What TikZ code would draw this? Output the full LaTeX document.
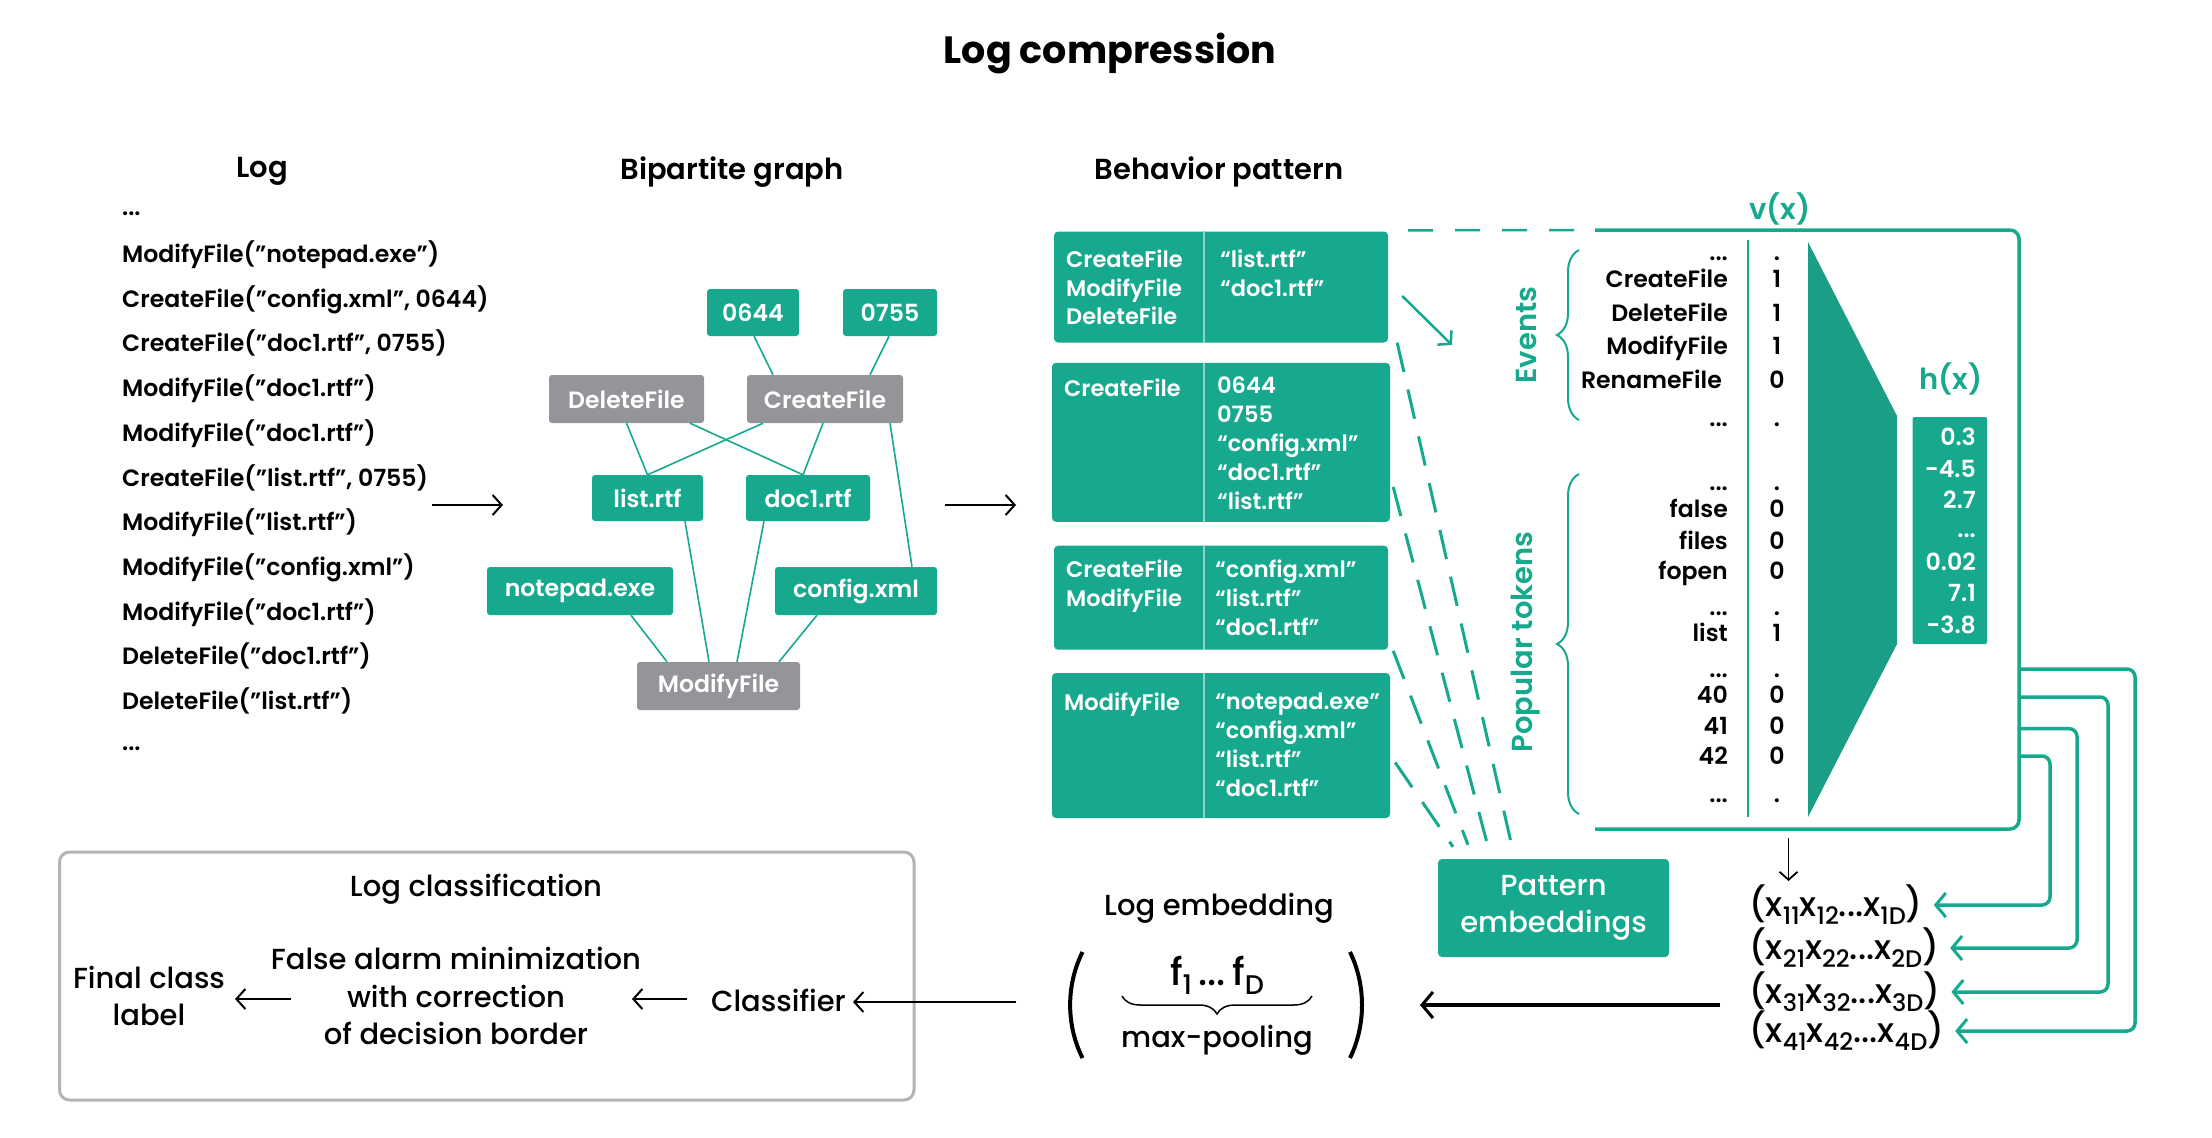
\documentclass[tikz,border=0pt]{standalone}
\usepackage{fontspec}
\setmainfont{Poppins}
\IfFontExistsTF{Poppins Medium}{\newfontfamily\pmedfam{Poppins Medium}}{\newfontfamily\pmedfam{Poppins}[FakeBold=2.0]}
\IfFontExistsTF{Poppins SemiBold}{\newfontfamily\psemifam{Poppins SemiBold}}{\newfontfamily\psemifam{Poppins}[FakeBold=3.0]}
\usetikzlibrary{arrows.meta,decorations.pathreplacing,calc}
\definecolor{kteal}{HTML}{17A98E}
\definecolor{ktrap}{HTML}{1B9E86}
\definecolor{kgray}{HTML}{939598}
\definecolor{kframe}{HTML}{B4B4B4}
\newcommand\fsA{\psemifam\fontsize{23.6}{28.8}\selectfont}
\newcommand\fsP{\psemifam\fontsize{22.5}{28.8}\selectfont}
\newcommand\fsB{\pmedfam\fontsize{29}{37.5}\selectfont}
\newcommand\fsV{\pmedfam\fontsize{34}{40}\selectfont}
\newcommand\fsF{\pmedfam\fontsize{38}{40}\selectfont}
\newcommand\fsH{\psemifam\fontsize{29}{34}\selectfont}
\newcommand\fsT{\bfseries\fontsize{38}{44}\selectfont}
\newcommand\tdots{...}
\newcommand\ksub[1]{\raisebox{-8pt}{\fontsize{24}{24}\selectfont #1}}
\newcommand\fsub[1]{\raisebox{-9pt}{\fontsize{27}{27}\selectfont #1}}
\begin{document}
\begin{tikzpicture}[x=1pt,y=-1pt,
  tb/.style={fill=kteal,text=white,rounded corners=3pt,inner sep=0pt,font=\fsA},
  gb/.style={tb,fill=kgray},
  pbox/.style={fill=kteal,rounded corners=4pt,inner sep=0pt},
  gedge/.style={kteal,line width=1.6pt},
  txt/.style={inner sep=0pt,font=\fsA},
  ptxt/.style={inner sep=0pt,font=\fsP,text=white,anchor=north west,align=left},
  blk/.style={line width=2pt,-{Straight Barb[length=9pt,width=20pt,line width=2pt]}},
  blkthick/.style={line width=3.5pt,-{Straight Barb[length=11pt,width=26pt,line width=3pt]}},
  tarr/.style={kteal,line width=3.5pt,rounded corners=8pt,-{Straight Barb[length=10pt,width=24pt,line width=3pt]}},
  tdash/.style={kteal,line width=3pt,dash pattern=on 30pt off 18pt},
  tbrace/.style={kteal,line width=2pt,decorate,decoration={brace,amplitude=22pt}}
]
\useasboundingbox (0,0) rectangle (2212,1138);
\fill[white] (0,0) rectangle (2212,1138);

% title and headers
\node[inner sep=0pt,font=\fsT] (title) at (1110,54) {Log compression};
\node[inner sep=0pt,font=\fsH] (hlog) at (262,171) {Log};
\node[inner sep=0pt,font=\fsH] (hbip) at (732,172) {Bipartite graph};
\node[inner sep=0pt,font=\fsH] (hbeh) at (1219,172) {Behavior pattern};

% log lines
\node[txt,anchor=base west] (ldots1) at (122,215) {\tdots};
\foreach \t [count=\i] in {{ModifyFile(”notepad.exe”)},{CreateFile(”config.xml”, 0644)},{CreateFile(”doc1.rtf”, 0755)},{ModifyFile(”doc1.rtf”)},{ModifyFile(”doc1.rtf”)},{CreateFile(”list.rtf”, 0755)},{ModifyFile(”list.rtf”)},{ModifyFile(”config.xml”)},{ModifyFile(”doc1.rtf”)},{DeleteFile(”doc1.rtf”)},{DeleteFile(”list.rtf”)}}
  \node[txt,anchor=base west] (log\i) at (122,{262.5+44.7*(\i-1)}) {\t};
\node[txt,anchor=base west] (ldots2) at (122,750) {\tdots};

\coordinate (a1s) at (432,505);
\coordinate (a1e) at (503,505);
\draw[blk] (a1s) -- (a1e);

% bipartite graph
\node[tb,minimum width=92pt,minimum height=47pt] (n0644) at (753,312.5) {0644};
\node[tb,minimum width=94pt,minimum height=47pt] (n0755) at (890,312.5) {0755};
\node[gb,minimum width=155pt,minimum height=48pt] (del) at (626.5,399) {DeleteFile};
\node[gb,minimum width=156pt,minimum height=48pt] (cre) at (825,399) {CreateFile};
\node[tb,minimum width=111pt,minimum height=46pt] (lst) at (647.5,498) {list.rtf};
\node[tb,minimum width=124pt,minimum height=46pt] (doc) at (808,498) {doc1.rtf};
\node[tb,minimum width=186pt,minimum height=48pt] (note) at (580,591) {notepad.exe};
\node[tb,minimum width=162pt,minimum height=48pt] (conf) at (856,591) {config.xml};
\node[gb,minimum width=163pt,minimum height=48pt] (mod) at (718.5,686) {ModifyFile};

\draw[gedge] ([xshift=1pt]n0644.south) -- ([xshift=-52pt]cre.north);
\draw[gedge] ([xshift=-1pt]n0755.south) -- ([xshift=45pt]cre.north);
\draw[gedge] (del.south) -- (lst.north);
\draw[gedge] ([xshift=63.5pt]del.south) -- ([xshift=-5pt]doc.north);
\draw[gedge] ([xshift=-62pt]cre.south) -- (lst.north);
\draw[gedge] ([xshift=-2pt]cre.south) -- ([xshift=-5pt]doc.north);
\draw[gedge] ([xshift=65pt]cre.south) -- ([xshift=56pt]conf.north);
\draw[gedge] ([xshift=37.5pt]lst.south) -- ([xshift=-9.5pt]mod.north);
\draw[gedge] ([xshift=-44pt]doc.south) -- ([xshift=18.5pt]mod.north);
\draw[gedge] ([xshift=51pt]note.south) -- ([xshift=-51.5pt]mod.north);
\draw[gedge] ([xshift=-39pt]conf.south) -- ([xshift=60.5pt]mod.north);

\coordinate (a2s) at (945,505);
\coordinate (a2e) at (1016,505);
\draw[blk] (a2s) -- (a2e);

% behavior pattern boxes
\node[pbox,minimum width=334pt,minimum height=111pt] (b1) at (1221,287) {};
\node[pbox,minimum width=338pt,minimum height=159pt] (b2) at (1221,442.3) {};
\node[pbox,minimum width=334pt,minimum height=104pt] (b3) at (1221,597.7) {};
\node[pbox,minimum width=338pt,minimum height=145pt] (b4) at (1221,745.5) {};
\foreach \b in {b1,b2,b3,b4}
  \draw[kteal!50!white,line width=2pt] (1204,0 |- \b.north) -- (1204,0 |- \b.south);

\node[ptxt] (b1l) at (1066,249.5) {CreateFile\\ModifyFile\\DeleteFile};
\node[ptxt] (b1r) at (1220,249.5) {“list.rtf”\\“doc1.rtf”};
\node[ptxt] (b2l) at (1064,379) {CreateFile};
\node[ptxt] (b2r) at (1217,377) {0644\\0755\\“config.xml”\\“doc1.rtf”\\“list.rtf”};
\node[ptxt] (b3l) at (1066,560) {CreateFile\\ModifyFile};
\node[ptxt] (b3r) at (1215,560) {“config.xml”\\“list.rtf”\\“doc1.rtf”};
\node[ptxt] (b4l) at (1064,693) {ModifyFile};
\node[ptxt] (b4r) at (1215,693) {“notepad.exe”\\“config.xml”\\“list.rtf”\\“doc1.rtf”};

% v(x) frame
\coordinate (vtl) at (1595,230);
\coordinate (vtr) at (2019,230);
\coordinate (vbr) at (2019,829);
\coordinate (vbl) at (1595,829);
\draw[kteal,line width=3.5pt,rounded corners=9pt] (vtl) -- (vtr) -- (vbr) -- (vbl);
\draw[kteal,line width=2.5pt,dash pattern=on 25pt off 22pt] ([xshift=20pt,yshift=1pt]b1.north east) -- ([xshift=-4pt]vtl);
\node[inner sep=0pt,font=\fsH,text=kteal] (vx) at (1780,209) {v(x)};
\node[inner sep=0pt,font=\fsH,text=kteal] (hx) at (1951,379) {h(x)};

% arrow box1 -> events
\coordinate (ea) at (1452,345);
\draw[kteal,line width=2.5pt,-{Straight Barb[length=9pt,width=20pt,line width=2.5pt]}] ([xshift=14pt,yshift=-9pt]b1.east) -- (ea);

% dashed lines to pattern embeddings
\node[pbox,minimum width=231pt,minimum height=98pt,text=white,font=\fsB,align=center] (pe) at (1553.5,908) {Pattern\\embeddings};
\draw[tdash] ([xshift=9pt]b1.south east) -- ([xshift=-41.5pt,yshift=12pt]pe.north);
\draw[tdash] ([xshift=3pt,yshift=35pt]b2.south east) -- ([xshift=-65.5pt,yshift=12pt]pe.north);
\draw[tdash] ([xshift=5pt,yshift=-1pt]b3.south east) -- ([xshift=-85.5pt,yshift=14pt]pe.north);
\draw[tdash] ([xshift=5pt,yshift=-17pt]b4.east) -- ([xshift=-100.5pt,yshift=12pt]pe.north);

% braces and rotated labels
\draw[tbrace] (1579,420) -- (1579,250);
\draw[tbrace] (1579,814) -- (1579,474);
\node[inner sep=0pt,font=\fsH,text=kteal,rotate=90] (ev) at (1526,335) {Events};
\node[inner sep=0pt,font=\fsH,text=kteal,rotate=90] (pt) at (1526,642) {Popular tokens};

% rows
\foreach \t/\yy/\v/\xx [count=\i] in {\tdots/252/./1728, CreateFile/279/1/1728, DeleteFile/313/1/1728, ModifyFile/346/1/1728, RenameFile/380/0/1722, \tdots/418/./1728, \tdots/482.5/./1728, false/509.5/0/1728, files/540.6/0/1728, fopen/571/0/1728, \tdots/607/./1728, list/633/1/1728, \tdots/669/./1728, 40/695/0/1728, 41/726/0/1728, 42/756/0/1728, \tdots/793.7/./1728}
{
  \ifx\v.
    \node[txt,anchor=base east] (row\i) at (\xx,{\yy+1}) {\t};
    \node[txt,anchor=base] (val\i) at (1778,{\yy+1}) {.};
  \else
    \node[txt,anchor=base east] (row\i) at (\xx,{\yy+8.4}) {\t};
    \node[txt,anchor=base] (val\i) at (1777,{\yy+8.4}) {\v};
  \fi
}
\draw[kteal,line width=2pt] (1748,240) -- (1748,817);

% trapezoid
\fill[ktrap] (1808,242) -- (1897,416) -- (1897,644) -- (1808,817) -- cycle;

% h(x) box
\node[pbox,minimum width=74.5pt,minimum height=227pt,rounded corners=2pt] (hbox) at (1949.75,530.5) {};
\foreach \t/\yy [count=\i] in {0.3/437, -4.5/469, 2.7/500, 7.1/593, -3.8/625, 0.02/562}
  \node[txt,text=white,anchor=base east] (hv\i) at (1976,{\yy+8.4}) {\t};
\node[txt,text=white,anchor=base east] (hvd) at (1976,537) {\tdots};

% vectors
\node[inner sep=0pt,font=\fsV,anchor=west] (vec1) at (1749,905) {(x\ksub{11}x\ksub{12}\tdots x\ksub{1D})};
\node[inner sep=0pt,font=\fsV,anchor=west] (vec2) at (1749,948) {(x\ksub{21}x\ksub{22}\tdots x\ksub{2D})};
\node[inner sep=0pt,font=\fsV,anchor=west] (vec3) at (1749,992) {(x\ksub{31}x\ksub{32}\tdots x\ksub{3D})};
\node[inner sep=0pt,font=\fsV,anchor=west] (vec4) at (1749,1031) {(x\ksub{41}x\ksub{42}\tdots x\ksub{4D})};

\coordinate (o1) at (2019,669);
\coordinate (o2) at (2019,697);
\coordinate (o3) at (2019,728.6);
\coordinate (o4) at (2019,756);
\draw[tarr] (o1) -- ++(116,0) |- ([xshift=11pt]vec4.east);
\draw[tarr] (o2) -- ++(89,0) |- ([xshift=11pt]vec3.east);
\draw[tarr] (o3) -- ++(58,0) |- ([xshift=11pt]vec2.east);
\draw[tarr] (o4) -- ++(31,0) |- ([xshift=11pt]vec1.east);

\coordinate (vd1) at (1788.5,838);
\coordinate (vd2) at (1788.5,881);
\draw[line width=1.8pt,-{Straight Barb[length=8pt,width=18pt,line width=1.8pt]}] (vd1) -- (vd2);

% log embedding
\node[inner sep=0pt,font=\fsB] (le) at (1219,908) {Log embedding};
\coordinate (lpar) at (1070,1005);
\coordinate (rpar) at (1361,1005);
\draw[line width=4pt] (1082.5,952) .. controls (1066,985) and (1066,1025) .. (1082.5,1058);
\draw[line width=4pt] (1350,952) .. controls (1366,985) and (1366,1025) .. (1350,1058);
\node[inner sep=0pt,font=\fsF] (ff) at (1217,975) {f\fsub{1}\,\tdots\,f\fsub{D}};
\draw[line width=1.5pt,decorate,decoration={brace,amplitude=18pt}] (1312,996) -- (1122,996);
\node[inner sep=0pt,font=\fsB] (mp) at (1217,1040) {max-pooling};
\coordinate (es) at (1720,1005);
\draw[blkthick] (es) -- ([xshift=59pt]rpar);

% log classification
\draw[kframe,line width=3pt,rounded corners=10pt] (59.5,852) rectangle (914,1100);
\node[inner sep=0pt,font=\fsB] (lc) at (476,889) {Log classification};
\node[inner sep=0pt,font=\fsB,align=center] (fin) at (149,996) {Final class\\label};
\node[inner sep=0pt,font=\fsB,align=center] (fa) at (456,996) {False alarm minimization\\with correction\\of decision border};
\node[inner sep=0pt,font=\fsB] (clf) at (778.5,1000) {Classifier};
\coordinate (cs) at (1016,1002);
\draw[blk] (cs) -- ([xshift=7pt,yshift=-2pt]clf.east);
\draw[blk] (687,999) -- (632,999);
\draw[blk] (290.5,999) -- (235,999);
\end{tikzpicture}
\end{document}
